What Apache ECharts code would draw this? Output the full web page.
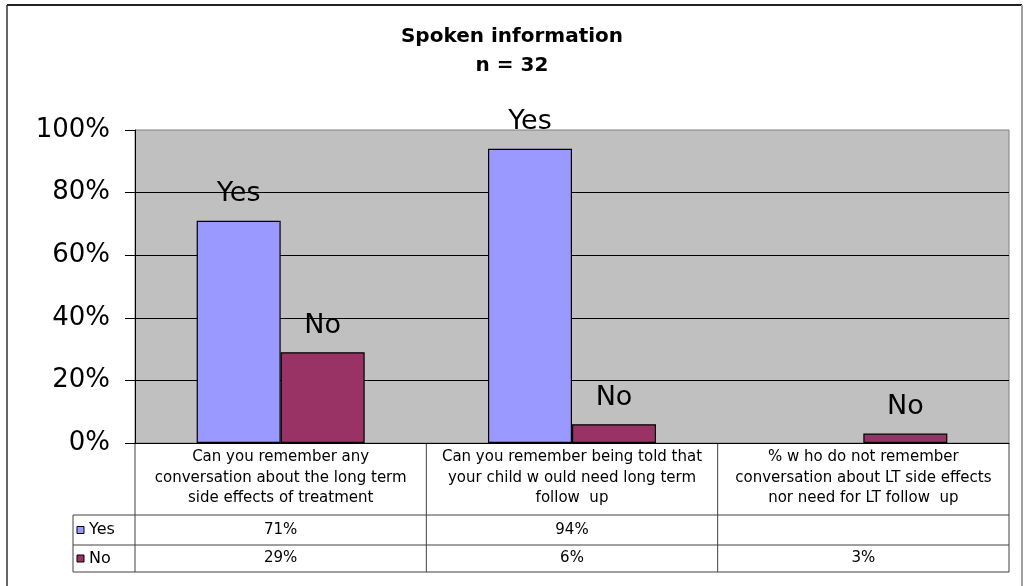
<!DOCTYPE html>
<html>
<head>
<meta charset="utf-8">
<title>Spoken information</title>
<script src="https://cdn.jsdelivr.net/npm/echarts@6/dist/echarts.min.js"></script>
<style>
  html, body { margin: 0; padding: 0; background: #ffffff; }
  #chart { width: 1024px; height: 586px; }
</style>
</head>
<body>
<div id="chart"></div>
<script>
// Question categories (line breaks as they wrap in the table header)
const categories = [
  'Can you remember any\nconversation about the long term\nside effects of treatment',
  'Can you remember being told that\nyour child w ould need long term\nfollow  up',
  '% w ho do not remember\nconversation about LT side effects\nnor need for LT follow  up'
];
const seriesNames = ['Yes', 'No'];
const yesValues = [71, 94, null];
const noValues = [29, 6, 3];
const seriesColors = ['#9999FF', '#993366'];

const FONT = 'DejaVu Sans';
const chart = echarts.init(document.getElementById('chart'), null, { renderer: 'canvas' });

const fmtPct = v => (v === null || v === undefined) ? '' : v + '%';

function barSeries(name, data, color) {
  return {
    name: name,
    type: 'bar',
    data: data,
    barWidth: 84,
    barGap: '0%',
    itemStyle: { color: color, borderColor: '#000000', borderWidth: 1.2 },
    label: {
      show: true,
      position: 'top',
      distance: 13,
      formatter: p => p.seriesName,
      fontFamily: FONT,
      fontSize: 27,
      color: '#000000'
    }
  };
}

chart.setOption({
  animation: false,
  backgroundColor: '#ffffff',
  title: {
    text: 'Spoken information\nn = 32',
    left: 'center',
    top: 17,
    textStyle: { fontFamily: FONT, fontSize: 20, fontWeight: 'bold', color: '#000000', lineHeight: 29 }
  },
  grid: {
    left: 135, right: 15, top: 130, bottom: 143,
    show: true,
    backgroundColor: '#C0C0C0',
    borderColor: '#808080',
    borderWidth: 1
  },
  xAxis: {
    type: 'category',
    data: categories,
    axisLine: { lineStyle: { color: '#000000', width: 1 } },
    axisTick: { show: false },
    axisLabel: {
      interval: 0,
      margin: 4,
      fontFamily: FONT,
      fontSize: 15,
      lineHeight: 20.5,
      color: '#000000',
      align: 'center'
    }
  },
  yAxis: {
    type: 'value',
    min: 0,
    max: 100,
    interval: 20,
    axisLine: { show: true, lineStyle: { color: '#000000', width: 1 } },
    axisTick: { show: true, length: 10, lineStyle: { color: '#000000' } },
    axisLabel: { formatter: '{value}%', margin: 25, fontFamily: FONT, fontSize: 26, color: '#000000' },
    splitLine: { show: true, showMaxLine: false, lineStyle: { color: '#000000', width: 1 } }
  },
  series: [
    barSeries(seriesNames[0], yesValues, seriesColors[0]),
    barSeries(seriesNames[1], noValues, seriesColors[1])
  ]
});

// Data table beneath the plot: legend keys, value rows and grid lines
function drawTable() {
  const c0 = chart.convertToPixel({ xAxisIndex: 0 }, 0);
  const c1 = chart.convertToPixel({ xAxisIndex: 0 }, 1);
  const band = c1 - c0;
  const centers = categories.map((_, i) => chart.convertToPixel({ xAxisIndex: 0 }, i));
  const bounds = [centers[0] - band / 2].concat(centers.map(c => c + band / 2));
  const axisY = chart.convertToPixel({ yAxisIndex: 0 }, 0);
  const rowLines = [515, 545, 572];
  const keyLeft = 73;
  const right = bounds[bounds.length - 1];
  const lineColor = '#404040';
  const els = [];

  const line = (x1, y1, x2, y2, color, w) => ({
    type: 'line', silent: true,
    shape: { x1, y1, x2, y2 },
    style: { stroke: color, lineWidth: w || 1 }
  });

  rowLines.forEach(y => els.push(line(keyLeft, y, right, y, lineColor)));
  els.push(line(keyLeft, rowLines[0], keyLeft, rowLines[2], lineColor));
  bounds.forEach(x => els.push(line(x, axisY, x, rowLines[2], lineColor)));

  const rows = [yesValues, noValues];
  rows.forEach((vals, r) => {
    const yMid = (rowLines[r] + rowLines[r + 1]) / 2;
    els.push({
      type: 'rect', silent: true,
      shape: { x: 77, y: yMid - 3.5, width: 7, height: 7 },
      style: { fill: seriesColors[r], stroke: '#000000', lineWidth: 1 }
    });
    els.push({
      type: 'text', silent: true,
      style: { x: 89, y: yMid, text: seriesNames[r], fontFamily: FONT, fontSize: 16,
               fill: '#000000', verticalAlign: 'middle', align: 'left' }
    });
    vals.forEach((v, i) => {
      els.push({
        type: 'text', silent: true,
        style: { x: centers[i], y: yMid, text: fmtPct(v), fontFamily: FONT, fontSize: 15,
                 fill: '#000000', verticalAlign: 'middle', align: 'center' }
      });
    });
  });

  // Chart frame
  els.push(line(7, 5, 1022, 5, '#222222', 2));
  els.push(line(7, 5, 7, 586, '#333333', 1.5));
  els.push(line(1022, 5, 1022, 586, '#a0a0a0', 2));

  chart.setOption({ graphic: els });
}
drawTable();
</script>
</body>
</html>
